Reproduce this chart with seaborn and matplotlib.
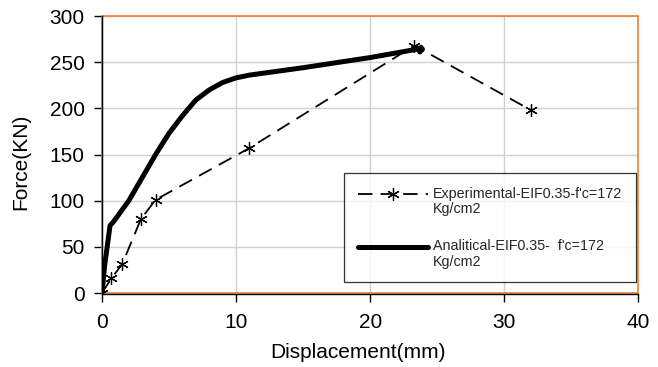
import matplotlib
matplotlib.use("Agg")
import matplotlib.pyplot as plt
from matplotlib.legend_handler import HandlerLine2D
from matplotlib.patches import Rectangle
import seaborn as sns
import pandas as pd

# Experimental test readings
exp_disp = [0.0, 0.7, 1.5, 2.9, 4.0, 11.0, 23.3, 32.0]
exp_force = [0.0, 16.0, 31.0, 80.0, 101.0, 157.0, 268.0, 198.0]

# Analytical model curve
ana_disp = [0.0, 0.2, 0.6, 0.9, 2.0, 3.0, 4.0, 5.0, 6.0, 7.0, 8.0, 9.0, 10.0,
            11.0, 12.0, 15.0, 20.0, 23.5, 23.8, 23.9, 23.7]
ana_force = [0.0, 30.0, 73.0, 78.0, 100.0, 125.0, 150.0, 173.0, 192.0, 209.0,
             220.0, 228.0, 233.0, 236.0, 238.0, 244.0, 255.0, 264.0, 266.0, 264.0, 261.0]

exp_label = "Experimental-EIF0.35-f'c=172\nKg/cm2"
ana_label = "Analitical-EIF0.35-  f'c=172\nKg/cm2"

x_ticks = [0, 10, 20, 30, 40]
y_ticks = [0, 50, 100, 150, 200, 250, 300]


class TopLineHandler(HandlerLine2D):
    """Legend line handle aligned with the first line of a two-line label."""

    def __init__(self, shift=5.5, **kw):
        super().__init__(**kw)
        self.shift = shift

    def create_artists(self, legend, orig_handle, xdescent, ydescent,
                       width, height, fontsize, trans):
        artists = super().create_artists(legend, orig_handle, xdescent, ydescent,
                                         width, height, fontsize, trans)
        for a in artists:
            a.set_ydata([y + self.shift for y in a.get_ydata()])
        return artists


sns.set_theme(style="white")
plt.rcParams["font.family"] = ["Liberation Sans", "DejaVu Sans"]

fig = plt.figure(figsize=(6.58, 3.67), dpi=100)
ax = fig.add_axes([0.155, 0.2016, 0.815, 0.7548])

exp_df = pd.DataFrame({"d": exp_disp, "f": exp_force})
ana_df = pd.DataFrame({"d": ana_disp, "f": ana_force})

sns.lineplot(data=exp_df, x="d", y="f", ax=ax, sort=False, color="black",
             linewidth=1.3, marker=(6, 2, 0), markersize=9, markeredgewidth=0.9,
             markeredgecolor="black", label=exp_label, zorder=3)
ax.lines[-1].set_dashes((8, 4.5))
sns.lineplot(data=ana_df, x="d", y="f", ax=ax, sort=False, color="black",
             linewidth=3.6, label=ana_label, zorder=4,
             solid_joinstyle="round", solid_capstyle="round")

ax.set_xlim(0, 40)
ax.set_ylim(0, 300)
ax.set_xticks(x_ticks)
ax.set_yticks(y_ticks)
ax.grid(True, color="#d0d0d0", linewidth=1.0)
ax.set_axisbelow(True)

# orange plot-area border, with black value/category axes on left and bottom
ax.add_patch(Rectangle((0, 0), 1, 1, transform=ax.transAxes, fill=False,
                       edgecolor="#ED7D31", linewidth=1.2, zorder=2.5,
                       clip_on=False))
for side in ["top", "right"]:
    ax.spines[side].set_visible(False)
for side in ["left", "bottom"]:
    ax.spines[side].set_color("black")
    ax.spines[side].set_linewidth(1.0)
    ax.spines[side].set_zorder(2.6)
ax.spines["bottom"].set_position(("outward", 1))

ax.tick_params(axis="both", which="major", labelsize=15, colors="black",
               direction="out", length=5.5, width=1.0, left=True, bottom=True)
ax.tick_params(axis="x", pad=8)
ax.tick_params(axis="y", pad=7)
ax.set_xlabel("Displacement(mm)", fontsize=15, color="black")
ax.set_ylabel("Force(KN)", fontsize=15, color="black")
ax.xaxis.set_label_coords(0.477, -0.18)
ax.yaxis.set_label_coords(-0.134, 0.473)

handles, labels = ax.get_legend_handles_labels()
leg = ax.legend(handles, labels, loc="lower left", bbox_to_anchor=(0.452, 0.038),
                fontsize=10.3, frameon=True, fancybox=False, shadow=False,
                handlelength=4.9, handletextpad=0.35, labelspacing=1.6,
                borderpad=0.95, borderaxespad=0,
                handler_map={h: TopLineHandler() for h in handles})
leg.get_frame().set_edgecolor("black")
leg.get_frame().set_linewidth(0.9)
for t in leg.get_texts():
    t.set_linespacing(1.15)

fig.savefig("out.png", dpi=100)
